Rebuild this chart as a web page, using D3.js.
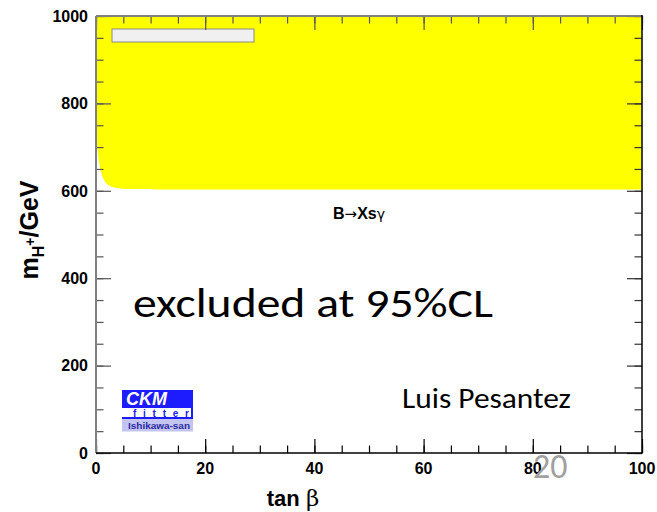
<!DOCTYPE html>
<html>
<head>
<meta charset="utf-8">
<script src="https://cdn.jsdelivr.net/npm/d3@7"></script>
<style>
html,body{margin:0;padding:0;background:#fff;}
svg{display:block;}
</style>
</head>
<body>
<svg id="chart" width="657" height="512"></svg>
<script>
// ---- data ----
const xMajorTicks = [0, 20, 40, 60, 80, 100];
const xMinorTicks = d3.range(0, 101, 5);
const yMajorTicks = [0, 200, 400, 600, 800, 1000];
const yMinorTicks = d3.range(0, 1001, 50);
// excluded-region boundary (B -> Xs gamma), tan beta vs m_H+
const boundaryTanB = [0.12, 0.14, 0.3, 0.6, 1.0, 1.5, 2.2, 3.2, 5, 10, 100];
const boundaryMH   = [1000, 720, 690, 660, 638, 622, 613, 607, 604, 603, 603];

const svg = d3.select("#chart");
const x = d3.scaleLinear().domain([0, 100]).range([96, 642]);
const y = d3.scaleLinear().domain([0, 1000]).range([453, 16]);

// yellow excluded region
const pts = boundaryTanB.map((t, i) => [t, boundaryMH[i]]);
const smooth = d3.line().x(d => x(d[0])).y(d => y(d[1])).curve(d3.curveBasis)(pts);
svg.append("path")
  .attr("d", smooth + "L" + x(100) + "," + y(1000) + "L" + x(boundaryTanB[0]) + "," + y(1000) + "Z")
  .attr("fill", "#ffff00");

// legend box (empty)
svg.append("rect").attr("x", 112).attr("y", 29).attr("width", 142).attr("height", 13)
  .attr("fill", "#f0f0f0").attr("stroke", "#8a8a8a").attr("stroke-width", 1);

// axes ticks (inward)
function styleAxis(g, color) {
  g.select(".domain").remove();
  g.selectAll("line").attr("stroke", color).attr("stroke-width", 1.2);
}
svg.append("g").attr("transform", "translate(0,453)")
  .call(d3.axisBottom(x).tickValues(xMinorTicks).tickSize(-7.5).tickFormat(""))
  .call(g => styleAxis(g, "#000"));
svg.append("g").attr("transform", "translate(0,453)")
  .call(d3.axisBottom(x).tickValues(xMajorTicks).tickSize(-14).tickFormat(""))
  .call(g => styleAxis(g, "#000"));
svg.append("g").attr("transform", "translate(0,16)")
  .call(d3.axisTop(x).tickValues(xMinorTicks).tickSize(-7.5).tickFormat(""))
  .call(g => styleAxis(g, "#555"));
svg.append("g").attr("transform", "translate(0,16)")
  .call(d3.axisTop(x).tickValues(xMajorTicks).tickSize(-14).tickFormat(""))
  .call(g => styleAxis(g, "#555"));
svg.append("g").attr("transform", "translate(96,0)")
  .call(d3.axisLeft(y).tickValues(yMinorTicks).tickSize(-7.5).tickFormat(""))
  .call(g => styleAxis(g, "#555"));
svg.append("g").attr("transform", "translate(96,0)")
  .call(d3.axisLeft(y).tickValues(yMajorTicks).tickSize(-15).tickFormat(""))
  .call(g => styleAxis(g, "#555"));
svg.append("g").attr("transform", "translate(642,0)")
  .call(d3.axisRight(y).tickValues(yMinorTicks).tickSize(-7.5).tickFormat(""))
  .call(g => styleAxis(g, "#333"));
svg.append("g").attr("transform", "translate(642,0)")
  .call(d3.axisRight(y).tickValues(yMajorTicks).tickSize(-15).tickFormat(""))
  .call(g => styleAxis(g, "#333"));

// frame
svg.append("line").attr("x1", 96).attr("x2", 96).attr("y1", 16).attr("y2", 453).attr("stroke", "#808080").attr("stroke-width", 2);
svg.append("line").attr("x1", 96).attr("x2", 642).attr("y1", 16).attr("y2", 16).attr("stroke", "#808080").attr("stroke-width", 2);
svg.append("line").attr("x1", 642).attr("x2", 642).attr("y1", 15).attr("y2", 453.5).attr("stroke", "#000").attr("stroke-width", 1.5);
svg.append("line").attr("x1", 96).attr("x2", 642.5).attr("y1", 453).attr("y2", 453).attr("stroke", "#000").attr("stroke-width", 1.5);

// tick labels
const labFont = "'Liberation Sans', Arial, sans-serif";
svg.append("g").selectAll("text").data(xMajorTicks).join("text")
  .attr("x", d => x(d)).attr("y", 474).attr("text-anchor", "middle")
  .attr("font-family", labFont).attr("font-weight", "bold").attr("font-size", 16)
  .text(d => d);
svg.append("g").selectAll("text").data(yMajorTicks).join("text")
  .attr("x", 88).attr("y", d => y(d)).attr("dy", "0.36em").attr("text-anchor", "end")
  .attr("font-family", labFont).attr("font-weight", "bold").attr("font-size", 16)
  .text(d => d);

// axis titles
const xt = svg.append("text").attr("x", 293).attr("y", 506).attr("text-anchor", "middle")
  .attr("font-family", labFont).attr("font-size", 22);
xt.append("tspan").attr("font-weight", "bold").text("tan ");
xt.append("tspan").attr("font-family", "'DejaVu Serif', serif").attr("font-size", 23).text("β");

const yt = svg.append("text").attr("transform", "translate(38,230) rotate(-90)")
  .attr("text-anchor", "middle").attr("font-family", labFont).attr("font-weight", "bold").attr("font-size", 25);
yt.append("tspan").text("m");
yt.append("tspan").attr("font-size", 16).attr("dy", 6).text("H");
yt.append("tspan").attr("font-size", 14).attr("dy", -9).text("+");
yt.append("tspan").attr("dy", 3).text("/GeV");

// process label
const proc = svg.append("text").attr("x", 333).attr("y", 219)
  .attr("font-family", labFont).attr("font-weight", "bold").attr("font-size", 16);
proc.append("tspan").text("B");
proc.append("tspan").attr("font-family", "'DejaVu Sans', sans-serif").attr("font-weight", "normal")
  .attr("font-size", 15).text("→");
proc.append("tspan").text("Xs");
proc.append("tspan").attr("font-family", "'DejaVu Sans', sans-serif").attr("font-weight", "normal")
  .attr("font-size", 14).text("γ");

// annotations
const calib = "Carlito, Calibri, Lato, 'Open Sans', sans-serif";
svg.append("text").attr("x", 133).attr("y", 317).attr("font-family", calib).attr("font-size", 40)
  .attr("textLength", 360).attr("lengthAdjust", "spacingAndGlyphs").text("excluded at 95%CL");
svg.append("text").attr("x", 402).attr("y", 408).attr("font-family", calib).attr("font-size", 28)
  .attr("textLength", 169).attr("lengthAdjust", "spacingAndGlyphs").text("Luis Pesantez");
svg.append("text").attr("x", 533).attr("y", 478).attr("font-family", calib).attr("font-size", 34)
  .attr("fill", "#a0a0a0").text("20");

// CKMfitter logo
const logo = svg.append("g");
logo.append("rect").attr("x", 122).attr("y", 390).attr("width", 71).attr("height", 29).attr("fill", "#1c1cff");
logo.append("text").attr("x", 126).attr("y", 405).attr("font-family", labFont).attr("font-weight", "bold")
  .attr("font-style", "italic").attr("font-size", 18).attr("fill", "#fff").text("CKM");
logo.append("rect").attr("x", 122).attr("y", 408).attr("width", 69).attr("height", 9).attr("fill", "#fff");
logo.append("text").attr("x", 133).attr("y", 416.5).attr("font-family", labFont).attr("font-weight", "bold")
  .attr("font-size", 10).attr("fill", "#1c1cff").attr("textLength", 56).attr("lengthAdjust", "spacing").text("fitter");
logo.append("rect").attr("x", 122).attr("y", 419).attr("width", 71).attr("height", 12.5).attr("fill", "#c4c4f0");
logo.append("text").attr("x", 128).attr("y", 428.5).attr("font-family", labFont).attr("font-weight", "bold")
  .attr("font-size", 9).attr("fill", "#2a2aa0").attr("textLength", 62).attr("lengthAdjust", "spacingAndGlyphs").text("Ishikawa-san");
</script>
</body>
</html>
